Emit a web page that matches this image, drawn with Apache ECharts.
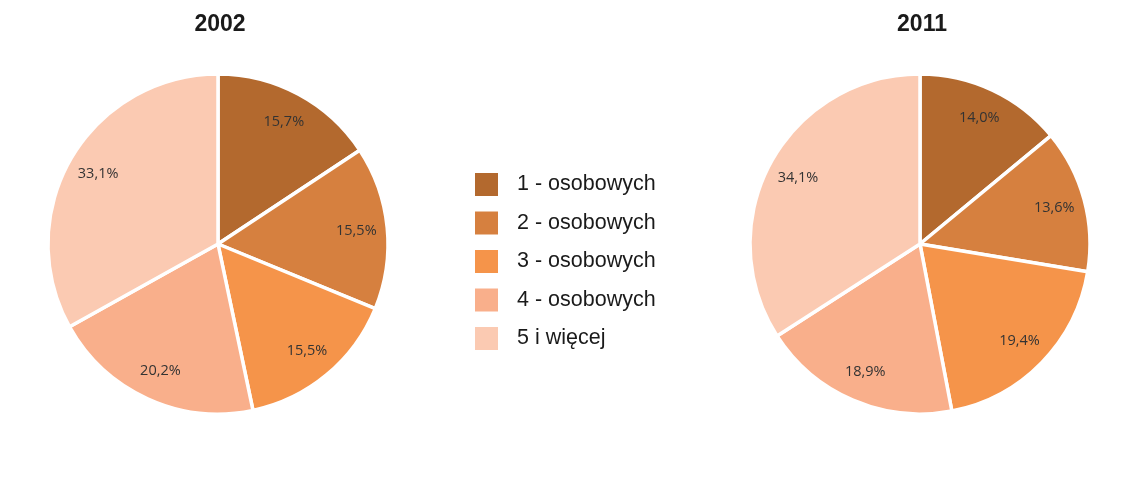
<!DOCTYPE html>
<html><head><meta charset="utf-8">
<script src="https://cdn.jsdelivr.net/npm/echarts@6/dist/echarts.min.js"></script>
<style>html,body{margin:0;padding:0;background:#fff}#c{width:1141px;height:493px}</style>
</head><body><div id="c"></div>
<script>
const categories = ['1 - osobowych', '2 - osobowych', '3 - osobowych', '4 - osobowych', '5 i więcej'];
const years = ['2002', '2011'];
const values2002 = [15.7, 15.5, 15.5, 20.2, 33.1];
const values2011 = [14.0, 13.6, 19.4, 18.9, 34.1];
const colors = ['#B3692E', '#D6803F', '#F5944A', '#F9AF8B', '#FBCAB2'];

const centers = [[218, 244], [920, 244]];
const allValues = [values2002, values2011];

const series = [];
allValues.forEach((vals, i) => {
  series.push({
    type: 'pie', radius: [0, 170], center: centers[i], startAngle: 90, clockwise: true,
    silent: true,
    itemStyle: { borderColor: '#fff', borderWidth: 3.5 },
    label: { show: false }, labelLine: { show: false },
    emphasis: { disabled: true },
    data: categories.map((c, k) => ({ name: c, value: vals[k], itemStyle: { color: colors[k] } }))
  });
});
allValues.forEach((vals, i) => {
  series.push({
    type: 'pie', radius: [102, 170], center: centers[i], startAngle: 90, clockwise: true,
    silent: true,
    itemStyle: { color: 'rgba(0,0,0,0)', borderWidth: 0 },
    label: {
      show: true, position: 'inside', color: '#333',
      fontFamily: 'Open Sans', fontSize: 14.5,
      formatter: p => p.value.toFixed(1).replace('.', ',') + '%'
    },
    labelLine: { show: false },
    emphasis: { disabled: true },
    data: categories.map((c, k) => ({ name: 'lbl' + k, value: vals[k] }))
  });
});

const chart = echarts.init(document.getElementById('c'));
chart.setOption({
  animation: false,
  title: years.map((y, i) => ({
    text: y, left: centers[i][0] - 3, top: 8, textAlign: 'center',
    textStyle: { fontFamily: 'Liberation Sans', fontWeight: 'bold', fontSize: 23, color: '#1a1a1a' }
  })),
  legend: {
    data: categories, orient: 'vertical', left: 468, top: 166,
    icon: 'rect', itemWidth: 25, itemHeight: 25, itemGap: 11.5,
    selectedMode: false,
    textStyle: { fontFamily: 'Liberation Sans', fontSize: 21.5, color: '#1a1a1a', padding: [0, 0, 0, 13] }
  },
  series
});
</script></body></html>
